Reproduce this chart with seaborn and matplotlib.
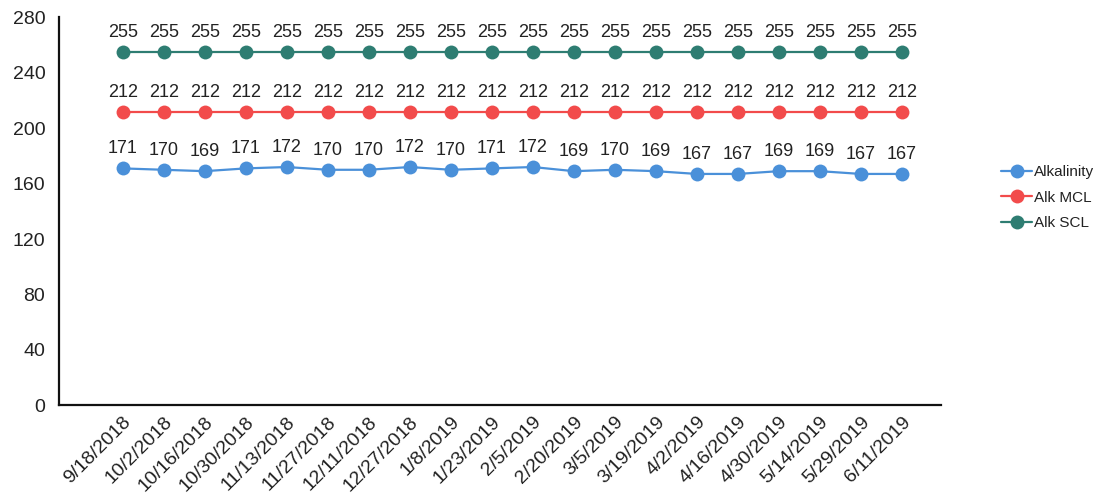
import matplotlib
matplotlib.use("Agg")
import matplotlib.pyplot as plt
import seaborn as sns
import pandas as pd

dates = ["9/18/2018", "10/2/2018", "10/16/2018", "10/30/2018", "11/13/2018",
         "11/27/2018", "12/11/2018", "12/27/2018", "1/8/2019", "1/23/2019",
         "2/5/2019", "2/20/2019", "3/5/2019", "3/19/2019", "4/2/2019",
         "4/16/2019", "4/30/2019", "5/14/2019", "5/29/2019", "6/11/2019"]
alkalinity = [171, 170, 169, 171, 172, 170, 170, 172, 170, 171,
              172, 169, 170, 169, 167, 167, 169, 169, 167, 167]
alk_mcl = [212] * 20
alk_scl = [255] * 20
series_names = ["Alkalinity", "Alk MCL", "Alk SCL"]
colors = ["#4a90d9", "#f24b4b", "#2e7d72"]

df = pd.DataFrame({"date": dates * 3,
                   "idx": list(range(len(dates))) * 3,
                   "value": alkalinity + alk_mcl + alk_scl,
                   "series": sum([[s] * len(dates) for s in series_names], [])})

sns.set_style("white")
plt.rcParams["font.family"] = ["Liberation Sans", "DejaVu Sans"]

fig = plt.figure(figsize=(11.16, 4.99), dpi=100)
ax = fig.add_axes([0.053, 0.188, 0.79, 0.777])

sns.lineplot(data=df, x="idx", y="value", hue="series", palette=colors,
             marker="o", markersize=10, markeredgewidth=0, linewidth=1.6, ax=ax)

for s, c in zip(series_names, colors):
    sub = df[df.series == s]
    for xi, v in zip(sub.idx, sub.value):
        ax.annotate(str(v), (xi, v), xytext=(0, 8), textcoords="offset points",
                    ha="center", va="bottom", fontsize=13, color="#222222")

ax.set_ylim(0, 280)
ax.set_yticks(range(0, 281, 40))
ax.set_xlim(-1.55, 19.95)
ax.set_xticks(range(len(dates)))
ax.set_xticklabels(dates, rotation=45, ha="right", rotation_mode="anchor", fontsize=14)
ax.tick_params(axis="y", labelsize=14, length=0, pad=10, labelcolor="#222222")
ax.tick_params(axis="x", length=0, pad=6, labelcolor="#222222")
ax.set_xlabel("")
ax.set_ylabel("")
for side in ["top", "right"]:
    ax.spines[side].set_visible(False)
for side in ["left", "bottom"]:
    ax.spines[side].set_color("#111111")
    ax.spines[side].set_linewidth(1.6)

leg = ax.legend(loc="center left", bbox_to_anchor=(1.053, 0.535), frameon=False,
                fontsize=11, handlelength=2.0, handletextpad=0.15, labelspacing=0.75)
for h in leg.legend_handles:
    h.set_markersize(10)
for t in leg.get_texts():
    t.set_color("#222222")

fig.savefig("out.png", dpi=100, facecolor="white")
